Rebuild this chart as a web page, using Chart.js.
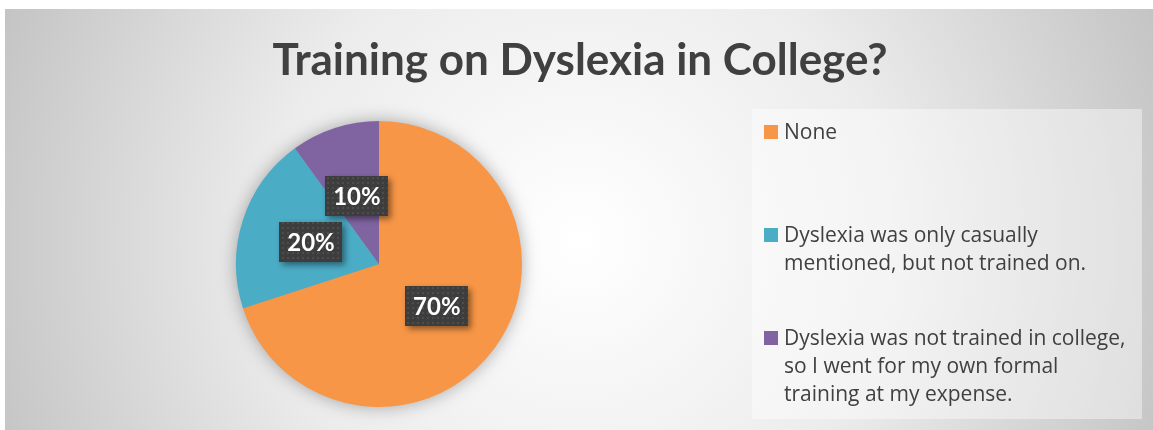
<!DOCTYPE html>
<html>
<head>
<meta charset="utf-8">
<script src="https://cdn.jsdelivr.net/npm/chart.js@4/dist/chart.umd.min.js"></script>
<style>
  html, body { margin: 0; padding: 0; background: #fff; }
  canvas { display: block; }
</style>
</head>
<body>
<canvas id="pie" width="1153" height="430"></canvas>
<script>
// data
const titleText = 'Training on Dyslexia in College?';
const categories = [
    'None',
    'Dyslexia was only casually mentioned, but not trained on.',
    'Dyslexia was not trained in college, so I went for my own formal training at my expense.'
];
const legendLines = [
    ['None'],
    ['Dyslexia was only casually', 'mentioned, but not trained on.'],
    ['Dyslexia was not trained in college,', 'so I went for my own formal', 'training at my expense.']
];
const values = [70, 20, 10];
const colors = ['#F79646', '#4BACC6', '#8064A2'];

const FONT = 'Lato, "Open Sans", sans-serif';
const LEGEND_FONT = '"Open Sans", Lato, sans-serif';

// dotted dark pattern for the data label boxes
function makeDots() {
    var c = document.createElement('canvas');
    c.width = 5; c.height = 5;
    var g = c.getContext('2d');
    g.fillStyle = '#3d3d3d';
    g.fillRect(0, 0, 5, 5);
    g.fillStyle = '#4d4d4d';
    g.fillRect(2, 2, 2, 2);
    return c;
}
const dots = makeDots();

// background + title
const backdrop = {
    id: 'backdrop',
    beforeDraw(chart) {
        const ctx = chart.ctx;
        ctx.save();
        ctx.fillStyle = '#fff';
        ctx.fillRect(0, 0, chart.width, chart.height);
        const grad = ctx.createRadialGradient(580, 240, 0, 580, 240, 620);
        grad.addColorStop(0, '#ffffff');
        grad.addColorStop(0.5, '#ececec');
        grad.addColorStop(1, '#c4c4c4');
        ctx.fillStyle = grad;
        ctx.fillRect(5, 9, chart.width - 5, chart.height - 9);

        ctx.fillStyle = '#404040';
        ctx.font = 'bold 44px ' + FONT;
        ctx.textAlign = 'center';
        ctx.textBaseline = 'alphabetic';
        ctx.fillText(titleText, 580, 75);
        ctx.restore();
    },
    beforeDatasetsDraw(chart) {
        // soft shadow under the pie
        const arc = chart.getDatasetMeta(0).data[0];
        if (!arc) return;
        const ctx = chart.ctx;
        ctx.save();
        ctx.shadowColor = 'rgba(0,0,0,0.35)';
        ctx.shadowBlur = 18;
        ctx.fillStyle = '#999';
        ctx.beginPath();
        ctx.arc(arc.x, arc.y, arc.outerRadius - 1, 0, Math.PI * 2);
        ctx.fill();
        ctx.restore();
    }
};

// percent labels in dark boxes
const boxLabels = {
    id: 'boxLabels',
    afterDatasetsDraw(chart) {
        const ctx = chart.ctx;
        const meta = chart.getDatasetMeta(0);
        const data = chart.data.datasets[0].data;
        const total = data.reduce((a, b) => a + b, 0);
        const pat = ctx.createPattern(dots, 'repeat');
        meta.data.forEach((arc, i) => {
            const p = arc.tooltipPosition();
            const txt = Math.round(data[i] / total * 100) + '%';
            const w = 63, h = 40;
            const x = Math.round(p.x - w / 2), y = Math.round(p.y - h / 2);
            ctx.save();
            ctx.shadowColor = 'rgba(0,0,0,0.45)';
            ctx.shadowBlur = 6;
            ctx.shadowOffsetX = 3;
            ctx.shadowOffsetY = 3;
            ctx.fillStyle = pat;
            ctx.fillRect(x, y, w, h);
            ctx.restore();
            ctx.save();
            ctx.fillStyle = '#ffffff';
            ctx.font = 'bold 24px ' + FONT;
            ctx.textAlign = 'center';
            ctx.textBaseline = 'middle';
            ctx.fillText(txt, p.x, p.y + 1);
            ctx.restore();
        });
    }
};

// legend box on the right
const sideLegend = {
    id: 'sideLegend',
    afterDraw(chart) {
        const ctx = chart.ctx;
        const bx = 752, by = 109, bw = 390, bh = 310;
        ctx.save();
        ctx.fillStyle = 'rgba(255,255,255,0.42)';
        ctx.fillRect(bx, by, bw, bh);
        ctx.font = '21px ' + LEGEND_FONT;
        ctx.textBaseline = 'alphabetic';
        ctx.textAlign = 'left';
        const ds = chart.data.datasets[0];
        legendLines.forEach((lines, i) => {
            const base = by + 30 + i * 103;
            ctx.fillStyle = ds.backgroundColor[i];
            ctx.fillRect(764, base - 14, 14, 14);
            ctx.fillStyle = '#404040';
            lines.forEach((ln, j) => {
                ctx.fillText(ln, 784, base + j * 28);
            });
        });
        ctx.restore();
    }
};

new Chart(document.getElementById('pie'), {
    type: 'pie',
    data: {
        labels: categories,
        datasets: [{
            data: values,
            backgroundColor: colors,
            borderWidth: 0
        }]
    },
    options: {
        responsive: false,
        animation: false,
        layout: {
            padding: { left: 236, right: 631, top: 121, bottom: 23 }
        },
        plugins: {
            legend: { display: false },
            title: { display: false },
            tooltip: { enabled: false }
        }
    },
    plugins: [backdrop, boxLabels, sideLegend]
});
</script>
</body>
</html>
